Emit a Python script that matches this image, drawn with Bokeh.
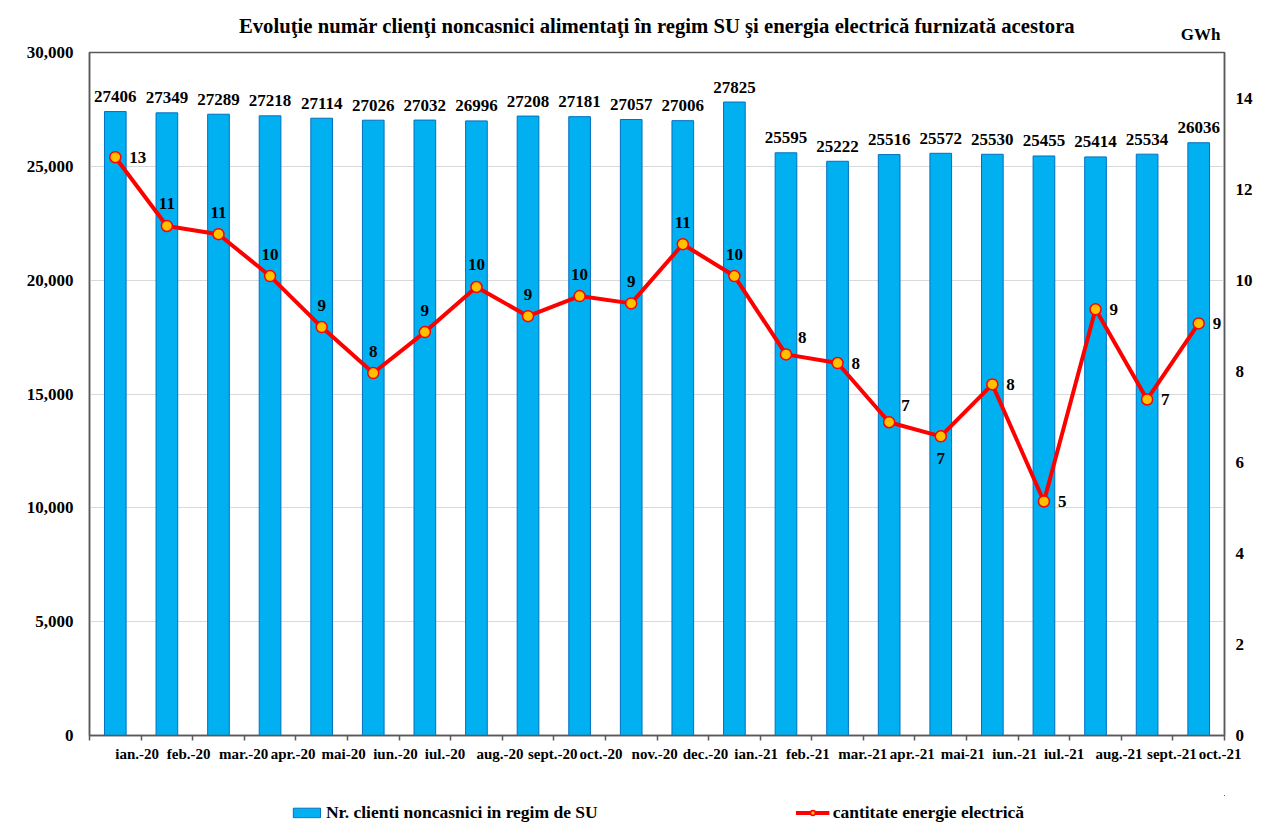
from bokeh.plotting import figure
from bokeh.layouts import column
from bokeh.models import (ColumnDataSource, Range1d, LinearAxis, FixedTicker,
                          NumeralTickFormatter, Legend, LegendItem, Title)
from bokeh.embed import file_html
from bokeh.resources import INLINE
from bokeh.core.properties import value

# ---------------- data ----------------
months = ["ian.-20", "feb.-20", "mar.-20", "apr.-20", "mai-20", "iun.-20", "iul.-20",
          "aug.-20", "sept.-20", "oct.-20", "nov.-20", "dec.-20", "ian.-21", "feb.-21",
          "mar.-21", "apr.-21", "mai-21", "iun.-21", "iul.-21", "aug.-21", "sept.-21",
          "oct.-21"]
clients = [27406, 27349, 27289, 27218, 27114, 27026, 27032, 26996, 27208, 27181, 27057,
           27006, 27825, 25595, 25222, 25516, 25572, 25530, 25455, 25414, 25534, 26036]
energy = [12.70, 11.19, 11.01, 10.09, 8.97, 7.96, 8.86, 9.85, 9.21, 9.65, 9.49,
          10.79, 10.09, 8.37, 8.18, 6.88, 6.57, 7.71, 5.14, 9.36, 7.38, 9.05]
left_ticks = [0, 5000, 10000, 15000, 20000, 25000, 30000]
right_ticks = [0, 2, 4, 6, 8, 10, 12, 14]

title_text = ("Evolu\u0163ie num\u0103r clien\u0163i noncasnici alimenta\u0163i \u00een regim SU "
              "\u015fi energia electric\u0103 furnizat\u0103 acestora")
unit_text = "GWh"
bar_name = "Nr. clienti noncasnici in regim de SU"
line_name = "cantitate energie electric\u0103"

# ---------------- layout / styles ----------------
FONT = "Liberation Serif"
W = 1255
H_MAIN, H_LEG = 795, 34
B_LEFT, B_RIGHT, B_TOP, B_BOTTOM = 89, 29, 52, 60
CAT_FONT_PX = 15
BAR_STYLE = dict(fill_color="#00B0F0", line_color="#0070C0", line_width=1)
LINE_STYLE = dict(line_color="#FF0000", line_width=4)
MARK_STYLE = dict(size=11, fill_color="#FFC000", line_color="#FF0000", line_width=1.5)
placement = ["right", "above", "above", "above", "above", "above", "above", "above",
             "above", "above", "above", "above", "above", "aboveright", "right",
             "aboveright", "below", "right", "right", "right", "right", "right"]
place_style = {"above": ("center", 0, -22), "right": ("left", 14, 0),
               "aboveright": ("left", 12, -17), "below": ("center", 0, 22)}

# advance widths (1/1000 em) of the bold serif face, used to left-align the
# category labels at the category centres (as in the original chart)
ADV = {"a": 500, "b": 556, "c": 444, "d": 556, "e": 444, "f": 333, "g": 500, "i": 278,
       "l": 278, "m": 833, "n": 556, "o": 500, "p": 556, "r": 444, "s": 389, "t": 333,
       "u": 556, "v": 500, ".": 250, "-": 333}

n = len(months)
xs = list(range(n))
px_per_cat = (W - B_LEFT - B_RIGHT) / n


def text_px(s):
    return sum(ADV.get(ch, 500) for ch in s) * CAT_FONT_PX / 1000.0


label_pos = [i + text_px(m) / 2.0 / px_per_cat for i, m in zip(xs, months)]

src = ColumnDataSource(dict(
    x=xs, clients=clients, energy=energy,
    clbl=[str(v) for v in clients],
    elbl=[str(int(round(v))) for v in energy],
    align=[place_style[p][0] for p in placement],
    dx=[place_style[p][1] for p in placement],
    dy=[place_style[p][2] for p in placement],
))

p = figure(width=W, height=H_MAIN, x_range=Range1d(-0.5, n - 0.5),
           y_range=Range1d(0, 30000), output_backend="svg", toolbar_location=None,
           min_border_left=B_LEFT, min_border_right=B_RIGHT, min_border_top=B_TOP,
           min_border_bottom=B_BOTTOM, title_location=None)
p.extra_y_ranges = {"right": Range1d(0, 15)}

p.outline_line_color = "#595959"
p.outline_line_width = 1.5
p.background_fill_color = "white"
p.border_fill_color = "white"

# titles (unit label nearest the frame, main title outside it)
unit_title = Title(text=unit_text, align="right", vertical_align="top", standoff=14,
                   offset=4, text_font=FONT, text_font_style="bold",
                   text_font_size="17px", text_color="black")
main_title = Title(text=title_text, align="center", vertical_align="bottom",
                   standoff=-38, text_font=FONT, text_font_style="bold",
                   text_font_size="20.7px", text_color="black")
p.add_layout(unit_title, "above")
p.add_layout(main_title, "above")

# left axis
lax = p.left[0]
lax.ticker = FixedTicker(ticks=left_ticks)
lax.formatter = NumeralTickFormatter(format="0,0")
lax.major_tick_out = 0
lax.major_tick_in = 0
lax.minor_tick_out = 0
lax.minor_tick_in = 0
lax.major_label_standoff = 16
lax.axis_line_color = "#595959"
lax.axis_line_width = 1.5

# bottom axis: labels starting at category centres, ticks between categories
bax = p.below[0]
bax.ticker = FixedTicker(ticks=label_pos, minor_ticks=[i - 0.5 for i in range(n + 1)])
bax.major_label_overrides = {pos: m for pos, m in zip(label_pos, months)}
bax.major_tick_out = 0
bax.major_tick_in = 0
bax.minor_tick_out = 5
bax.minor_tick_in = 0
bax.minor_tick_line_color = "#595959"
bax.minor_tick_line_width = 1.5
bax.axis_line_color = "#595959"
bax.axis_line_width = 1.5
bax.major_label_standoff = 5
bax.major_label_text_font = FONT
bax.major_label_text_font_style = "bold"
bax.major_label_text_font_size = f"{CAT_FONT_PX}px"
bax.major_label_text_color = "black"

# right axis
rax = LinearAxis(y_range_name="right", ticker=FixedTicker(ticks=right_ticks))
rax.major_tick_out = 0
rax.major_tick_in = 0
rax.minor_tick_out = 0
rax.minor_tick_in = 0
rax.major_label_standoff = 11
rax.axis_line_color = "#595959"
rax.axis_line_width = 1.5
p.add_layout(rax, "right")

for ax in (lax, rax):
    ax.major_label_text_font = FONT
    ax.major_label_text_font_style = "bold"
    ax.major_label_text_font_size = "17px"
    ax.major_label_text_color = "black"

p.xgrid.visible = False
p.ygrid.grid_line_color = "#d9d9d9"
p.ygrid.grid_line_width = 1

# bars
bars = p.vbar(x="x", top="clients", width=0.42, source=src, **BAR_STYLE)

# line + markers
line = p.line(x="x", y="energy", source=src, y_range_name="right", **LINE_STYLE)
pts = p.scatter(x="x", y="energy", source=src, y_range_name="right", **MARK_STYLE)

# bar value labels
p.text(x="x", y="clients", text="clbl", source=src, text_align="center",
       text_baseline="alphabetic", y_offset=-15, text_font=value(FONT),
       text_font_style="bold", text_font_size="17px", text_color="black")

# line value labels
p.text(x="x", y="energy", text="elbl", source=src, y_range_name="right",
       text_align="align", x_offset="dx", y_offset="dy", text_baseline="alphabetic",
       text_font=value(FONT), text_font_style="bold", text_font_size="17px",
       text_color="black")

# ---------------- legend strip (separate figure under the chart) ----------------
# same series and styles; the ranges keep the marks themselves out of view so
# only the legend keys are shown
lg = figure(width=W, height=H_LEG, x_range=Range1d(-3, -2), y_range=Range1d(-3, -2),
            output_backend="svg", toolbar_location=None, title_location=None,
            x_axis_location=None, y_axis_location=None,
            min_border_left=B_LEFT, min_border_right=B_RIGHT, min_border_top=0,
            min_border_bottom=0)
lg.outline_line_color = None
lg.grid.visible = False
lg.border_fill_color = "white"
lbars = lg.vbar(x="x", top="clients", width=0.42, source=src, **BAR_STYLE)
lline = lg.line(x="x", y="energy", source=src, **LINE_STYLE)
lpts = lg.scatter(x="x", y="energy", source=src, **MARK_STYLE)

legend = Legend(items=[LegendItem(label=bar_name, renderers=[lbars]),
                       LegendItem(label=line_name, renderers=[lline, lpts])],
                orientation="horizontal", location="center", spacing=198,
                padding=0, margin=0, border_line_color=None, background_fill_alpha=0,
                label_text_font=FONT, label_text_font_style="bold",
                label_text_font_size="17.5px", label_text_color="black",
                glyph_width=34, glyph_height=12, label_standoff=3)
lg.add_layout(legend)

layout = column(p, lg, spacing=0)
open("out.html", "w").write(file_html(layout, INLINE))
